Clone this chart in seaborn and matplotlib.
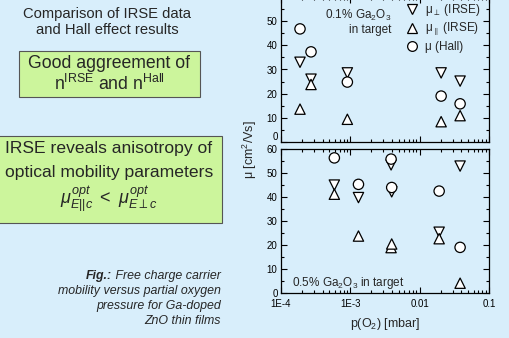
import matplotlib
matplotlib.use("Agg")
import matplotlib.pyplot as plt
import pandas as pd
import seaborn as sns
from matplotlib.lines import Line2D
from matplotlib.patches import Rectangle
from matplotlib.ticker import LogLocator, MultipleLocator, NullFormatter

# --- data ---
# 0.1 % Ga2O3 in target (upper panel)
p_top = [1.88e-4, 2.71e-4, 9.06e-4, 0.0204, 0.0383]
mu_perp_top = [33, 26, 28.6, 28.6, 25.2]
mu_par_top = [13.6, 23.8, 9.4, 8.4, 10.9]
mu_hall_top = [46.8, 37.3, 24.8, 19.0, 15.8]

# 0.5 % Ga2O3 in target (lower panel)
p_bot = [5.88e-4, 1.31e-3, 3.87e-3, 3.95e-3, 0.0191, 0.0383]
mu_perp_bot = [45.0, 39.8, 53.4, 42.2, 25.4, 52.9]
mu_par_bot = [41.2, 23.8, 19.0, 20.5, 22.7, 4.2]
mu_hall_bot = [56.3, 45.3, 55.8, 44.0, 42.5, 19.1]

series = ["perp", "par", "hall"]
markers = {"perp": "v", "par": "^", "hall": "o"}
legend_labels = ["μ$_{\\perp}$ (IRSE)", "μ$_{\\parallel}$ (IRSE)", "μ (Hall)"]


def long_form(p, perp, par, hall):
    rows = []
    for name, vals in zip(series, [perp, par, hall]):
        for x, y in zip(p, vals):
            rows.append({"p": x, "mu": y, "series": name})
    return pd.DataFrame(rows)


df_top = long_form(p_top, mu_perp_top, mu_par_top, mu_hall_top)
df_bot = long_form(p_bot, mu_perp_bot, mu_par_bot, mu_hall_bot)

sns.set_theme(style="ticks")
plt.rcParams["font.family"] = ["Liberation Sans", "DejaVu Sans"]
plt.rcParams["mathtext.fontset"] = "custom"
plt.rcParams["mathtext.rm"] = "Liberation Sans"
plt.rcParams["mathtext.it"] = "Liberation Sans:italic"
plt.rcParams["mathtext.bf"] = "Liberation Sans:bold"

bg = "#d8eefb"
green = "#ccf59c"
W, H = 509, 338
fig = plt.figure(figsize=(W / 100, H / 100), dpi=100, facecolor=bg)


def fx(px):
    return px / W


def fy(py):
    return 1 - py / H


ax_top = fig.add_axes([fx(281), fy(142), fx(489) - fx(281), fy(-3) - fy(142)])
ax_bot = fig.add_axes([fx(281), fy(293.3), fx(489) - fx(281), fy(149) - fy(293.3)])

for ax, df in [(ax_top, df_top), (ax_bot, df_bot)]:
    ax.set_facecolor("none")
    sns.scatterplot(
        data=df, x="p", y="mu", style="series", markers=markers,
        color="white", edgecolor="black", linewidth=0.9, s=55,
        legend=False, ax=ax, zorder=3,
    )
    ax.set_xscale("log")
    ax.set_xlim(1e-4, 0.1)
    ax.set_ylim(0, 60)
    ax.yaxis.set_major_locator(MultipleLocator(10))
    ax.yaxis.set_minor_locator(MultipleLocator(5))
    ax.xaxis.set_major_locator(LogLocator(base=10))
    ax.xaxis.set_minor_locator(LogLocator(base=10, subs=range(2, 10)))
    ax.xaxis.set_minor_formatter(NullFormatter())
    ax.tick_params(which="both", direction="in", top=True, right=True,
                   labelsize=7, width=0.8, colors="black", pad=2.5)
    ax.tick_params(which="major", length=4)
    ax.tick_params(which="minor", length=2)
    for s in ax.spines.values():
        s.set_linewidth(0.9)
        s.set_color("black")
    ax.set_xlabel("")
    ax.set_ylabel("")

ax_top.tick_params(labelbottom=False)
ax_top.set_yticks([0, 10, 20, 30, 40, 50, 60])
ax_top.set_yticklabels(["0", "10", "20", "30", "40", "50", ""])
ax_top.get_yticklabels()[0].set_va("bottom")
ax_bot.set_xticks([1e-4, 1e-3, 1e-2, 1e-1])
ax_bot.set_xticklabels(["1E-4", "1E-3", "0.01", "0.1"])
ax_bot.tick_params(axis="x", pad=4)

handles = [Line2D([], [], marker=markers[s], linestyle="none", markerfacecolor="white",
                  markeredgecolor="black", markersize=7, markeredgewidth=0.9) for s in series]
fig.legend(handles, legend_labels, loc="upper left", bbox_to_anchor=(fx(397), fy(-6)),
           frameon=False, fontsize=8.5, handletextpad=0.5, labelspacing=0.2,
           handlelength=1.2, borderpad=0.2)

fig.text(fx(391), fy(8), "0.1% Ga$_2$O$_3$\nin target", ha="right", va="top",
         fontsize=8.5, multialignment="right", linespacing=1.15)
fig.text(fx(292), fy(283), "0.5% Ga$_2$O$_3$ in target", ha="left", va="center", fontsize=8.5)

fig.text(fx(250), fy(150), "μ [cm$^2$/Vs]", rotation=90, ha="center",
         va="center", fontsize=9)
fig.text(fx(385), fy(324), "p(O$_2$) [mbar]", ha="center", va="center", fontsize=9)

# left-hand annotations
fig.text(fx(107), fy(22), "Comparison of IRSE data\nand Hall effect results",
         ha="center", va="center", fontsize=10.6, linespacing=1.1)

fig.patches.append(Rectangle((fx(19), fy(97)), fx(200) - fx(19), fy(51) - fy(97),
                             transform=fig.transFigure, facecolor=green,
                             edgecolor="#555555", linewidth=0.8, zorder=0))
fig.text(fx(109), fy(64), "Good aggreement of", ha="center", va="center", fontsize=12.7)
fig.text(fx(109), fy(84), r"n$^{\mathrm{IRSE}}$ and n$^{\mathrm{Hall}}$",
         ha="center", va="center", fontsize=12.7)

fig.patches.append(Rectangle((fx(-2), fy(223)), fx(222) + 2 / W, fy(136) - fy(223),
                             transform=fig.transFigure, facecolor=green,
                             edgecolor="#555555", linewidth=0.8, zorder=0))
fig.text(fx(109), fy(149), "IRSE reveals anisotropy of", ha="center", va="center", fontsize=12.6)
fig.text(fx(109), fy(172), "optical mobility parameters", ha="center", va="center", fontsize=12.6)
fig.text(fx(109), fy(199), r"$\mu^{opt}_{E||c}\ <\ \mu^{opt}_{E\perp c}$",
         ha="center", va="center", fontsize=13)

# caption, first line with bold-italic "Fig.:"
cap_size = 8.9
line_y = [276, 291, 306, 321]
cap_lines = [" Free charge carrier", "mobility versus partial oxygen",
             "pressure for Ga-doped", "ZnO thin films"]
texts = [fig.text(fx(221), fy(y), t, ha="right", va="center", fontsize=cap_size,
                  style="italic") for y, t in zip(line_y, cap_lines)]
fig.canvas.draw()
x0 = texts[0].get_window_extent().x0 / fig.bbox.width
fig.text(x0, fy(line_y[0]), "Fig.:", ha="right", va="center", fontsize=cap_size,
         style="italic", fontweight="bold")

fig.savefig("out.png", dpi=100, facecolor=bg)
